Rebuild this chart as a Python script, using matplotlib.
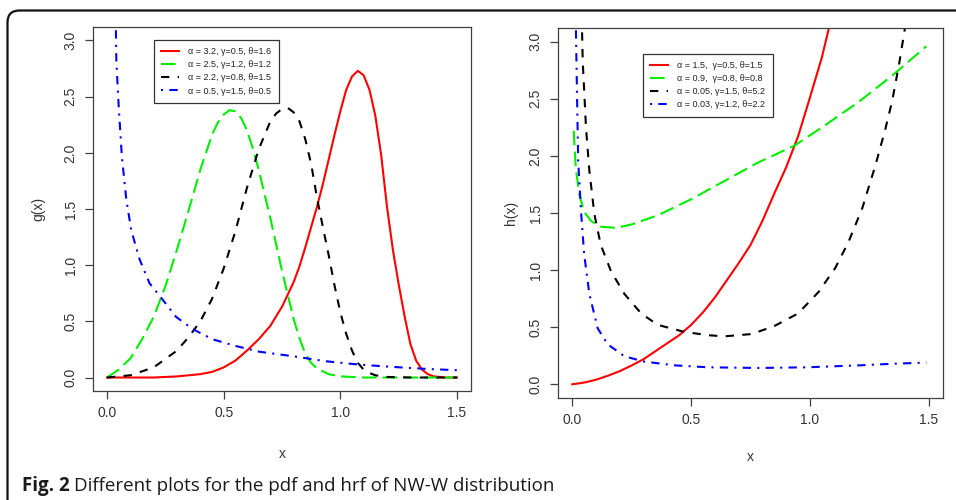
import matplotlib
matplotlib.use("Agg")
import matplotlib.pyplot as plt
from matplotlib.patches import FancyBboxPatch
from matplotlib.transforms import IdentityTransform

plt.rcParams['font.family'] = ['Liberation Sans', 'DejaVu Sans']

# ---------------- data: pdf panel g(x) ----------------
g_labels = ["α = 3.2, γ=0.5, θ=1.6", "α = 2.5, γ=1.2, θ=1.2",
            "α = 2.2, γ=0.8, θ=1.5", "α = 0.5, γ=1.5, θ=0.5"]
g_red_x = [0.0, 0.2, 0.3, 0.4, 0.45, 0.5, 0.55, 0.6, 0.65, 0.7, 0.75, 0.8, 0.825, 0.85,
           0.875, 0.9, 0.925, 0.95, 0.975, 1.0, 1.025, 1.05, 1.075, 1.1, 1.125, 1.15,
           1.175, 1.2, 1.225, 1.25, 1.275, 1.3, 1.325, 1.35, 1.375, 1.4, 1.45, 1.5]
g_red_y = [0.0, 0.0, 0.01, 0.03, 0.05, 0.09, 0.15, 0.24, 0.34, 0.46, 0.63, 0.85, 0.99, 1.16,
           1.34, 1.52, 1.72, 1.94, 2.16, 2.37, 2.56, 2.68, 2.73, 2.69, 2.56, 2.33,
           1.98, 1.52, 1.14, 0.83, 0.55, 0.3, 0.15, 0.07, 0.03, 0.01, 0.0, 0.0]
g_green_x = [0.0, 0.05, 0.1, 0.15, 0.2, 0.25, 0.3, 0.35, 0.4, 0.45, 0.475, 0.5, 0.525,
             0.55, 0.575, 0.6, 0.625, 0.65, 0.7, 0.75, 0.8, 0.825, 0.85, 0.875, 0.9,
             0.95, 1.0, 1.1, 1.5]
g_green_y = [0.0, 0.07, 0.17, 0.34, 0.54, 0.81, 1.14, 1.49, 1.85, 2.16, 2.27, 2.34, 2.38,
             2.37, 2.31, 2.2, 2.04, 1.85, 1.42, 0.95, 0.52, 0.35, 0.21, 0.13, 0.08,
             0.03, 0.01, 0.0, 0.0]
g_black_x = [0.0, 0.1, 0.2, 0.3, 0.35, 0.4, 0.45, 0.5, 0.55, 0.6, 0.65, 0.7, 0.725, 0.75,
             0.775, 0.8, 0.825, 0.85, 0.875, 0.9, 0.925, 0.95, 0.975, 1.0, 1.025, 1.05,
             1.075, 1.1, 1.125, 1.15, 1.2, 1.3, 1.5]
g_black_y = [0.0, 0.02, 0.09, 0.24, 0.36, 0.5, 0.7, 0.97, 1.3, 1.69, 2.03, 2.28, 2.35, 2.39,
             2.4, 2.36, 2.28, 2.12, 1.9, 1.6, 1.34, 1.09, 0.82, 0.58, 0.39, 0.24,
             0.13, 0.07, 0.04, 0.02, 0.005, 0.0, 0.0]
g_blue_x = [0.036, 0.04, 0.051, 0.064, 0.083, 0.104, 0.14, 0.182, 0.232, 0.296, 0.368, 0.453,
            0.553, 0.652, 0.795, 0.937, 1.08, 1.22, 1.365, 1.5]
g_blue_y = [3.4, 2.82, 2.38, 1.96, 1.58, 1.31, 1.05, 0.84, 0.71, 0.54, 0.43, 0.34,
            0.28, 0.23, 0.19, 0.145, 0.115, 0.095, 0.077, 0.065]

# ---------------- data: hrf panel h(x) ----------------
h_labels = ["α = 1.5,  γ=0.5, θ=1.5", "α = 0.9,  γ=0.8, θ=0.8",
            "α = 0.05, γ=1.5, θ=5.2", "α = 0.03, γ=1.2, θ=2.2"]
h_red_x = [0.0, 0.05, 0.1, 0.15, 0.2, 0.25, 0.3, 0.35, 0.4, 0.45, 0.5, 0.55, 0.6, 0.65,
           0.7, 0.75, 0.8, 0.85, 0.9, 0.95, 1.0, 1.05, 1.08, 1.1]
h_red_y = [0.0, 0.015, 0.04, 0.075, 0.115, 0.165, 0.22, 0.29, 0.36, 0.43, 0.52, 0.63, 0.76,
           0.91, 1.06, 1.22, 1.43, 1.67, 1.9, 2.17, 2.51, 2.86, 3.12, 3.3]
h_green_x = [0.006, 0.015, 0.03, 0.05, 0.079, 0.12, 0.185, 0.25, 0.36, 0.5, 0.64, 0.78,
             0.935, 1.065, 1.21, 1.35, 1.49]
h_green_y = [2.22, 1.89, 1.66, 1.51, 1.43, 1.38, 1.37, 1.4, 1.48, 1.62, 1.78, 1.94,
             2.09, 2.27, 2.48, 2.71, 2.96]
h_black_x = [0.038, 0.044, 0.058, 0.072, 0.093, 0.12, 0.163, 0.22, 0.29, 0.36, 0.47, 0.57,
             0.64, 0.755, 0.85, 0.95, 1.037, 1.107, 1.163, 1.22, 1.276, 1.318, 1.346,
             1.375, 1.4, 1.41]
h_black_y = [3.4, 2.83, 2.24, 1.87, 1.49, 1.22, 0.99, 0.79, 0.62, 0.52, 0.46, 0.43,
             0.42, 0.44, 0.51, 0.62, 0.81, 1.02, 1.25, 1.54, 1.92, 2.24, 2.48,
             2.8, 3.12, 3.4]
h_blue_x = [0.013, 0.02, 0.025, 0.037, 0.05, 0.072, 0.107, 0.149, 0.22, 0.3, 0.43, 0.57,
            0.78, 0.99, 1.21, 1.35, 1.49]
h_blue_y = [3.4, 2.54, 1.95, 1.51, 1.14, 0.79, 0.49, 0.35, 0.245, 0.2, 0.166, 0.149,
            0.143, 0.149, 0.166, 0.18, 0.19]

x_ticks = [0.0, 0.5, 1.0, 1.5]
y_ticks = [0.0, 0.5, 1.0, 1.5, 2.0, 2.5, 3.0]

colors = ["#ff0000", "#00ee00", "#000000", "#0000ff"]
styles = ["-", (0, (7, 3)), (0, (4, 4)), (0, (1, 3, 4, 3))]

W, H = 956, 500
fig = plt.figure(figsize=(W / 100, H / 100), dpi=100)

def px_axes(l, t, r, b):
    return fig.add_axes([l / W, 1 - b / H, (r - l) / W, (b - t) / H])

axL = px_axes(93, 27, 471, 391)
axR = px_axes(558, 28, 943, 398)

def style_axes(ax):
    ax.set_xlim(-0.06, 1.56)
    ax.set_ylim(-0.12, 3.12)
    ax.set_xticks(x_ticks)
    ax.set_xticklabels([f"{v:.1f}" for v in x_ticks])
    ax.set_yticks(y_ticks)
    ax.set_yticklabels([f"{v:.1f}" for v in y_ticks], rotation=90, va="center")
    for s in ax.spines.values():
        s.set_color("#404040")
        s.set_linewidth(0.9)
    ax.tick_params(direction="out", length=6, width=0.9, color="#404040",
                   labelsize=10, labelcolor="#333333", pad=5)

def draw(ax, xs, ys, labels, leg_xy):
    for x, y, c, ls, lab in zip(xs, ys, colors, styles, labels):
        ax.plot(x, y, color=c, linestyle=ls, linewidth=1.5, label=lab, clip_on=True)
    leg = ax.legend(loc="upper left", bbox_to_anchor=leg_xy, fontsize=6.5,
                    frameon=True, fancybox=False, framealpha=1, edgecolor="#333333",
                    handlelength=2.0, handletextpad=1.0, labelspacing=0.45,
                    borderpad=0.8, borderaxespad=0)
    leg.get_frame().set_linewidth(0.9)
    for t in leg.get_texts():
        t.set_color("#222222")

style_axes(axL)
style_axes(axR)

draw(axL, [g_red_x, g_green_x, g_black_x, g_blue_x],
     [g_red_y, g_green_y, g_black_y, g_blue_y], g_labels, (0.161, 0.964))
draw(axR, [h_red_x, h_green_x, h_black_x, h_blue_x],
     [h_red_y, h_green_y, h_black_y, h_blue_y], h_labels, (0.221, 0.930))

axL.set_xlabel("x", fontsize=10, color="#333333")
axL.xaxis.set_label_coords(0.5, -0.155)
axL.set_ylabel("g(x)", fontsize=10, color="#333333")
axL.yaxis.set_label_coords(-0.127, 0.5)
axR.set_xlabel("x", fontsize=10, color="#333333")
axR.xaxis.set_label_coords(0.5, -0.14)
axR.set_ylabel("h(x)", fontsize=10, color="#333333")
axR.yaxis.set_label_coords(-0.104, 0.5)

# outer rounded frame (open to the right and bottom)
frame = FancyBboxPatch((7.5, -40), 1100, 490 + 40 - 0.5,
                       boxstyle="round,pad=0,rounding_size=12",
                       transform=IdentityTransform(), fill=False,
                       edgecolor="#111111", linewidth=1.6)
fig.add_artist(frame)

# caption
cap_fam = ["Open Sans", "DejaVu Sans"]
t1 = fig.text(22 / W, 1 - 486 / H, "Fig. 2", fontsize=13.5, fontweight="bold",
              family=cap_fam, va="center", ha="left", color="#1a1a1a")
fig.canvas.draw()
bb = t1.get_window_extent()
fig.text((bb.x1 + 4) / W, 1 - 486 / H, "Different plots for the pdf and hrf of NW-W distribution",
         fontsize=13.5, family=cap_fam, va="center", ha="left", color="#1a1a1a")

fig.savefig("out.png", dpi=100)
